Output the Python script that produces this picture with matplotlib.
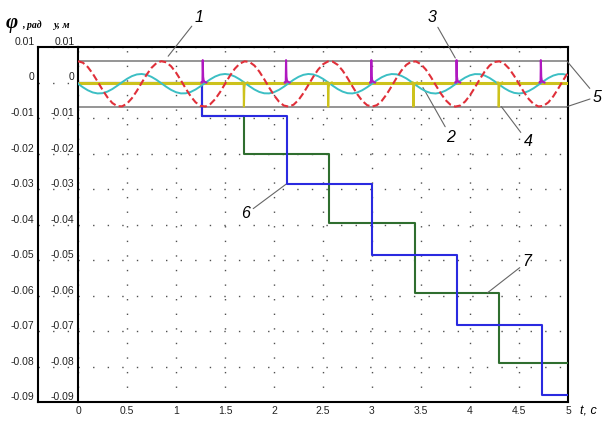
import matplotlib
matplotlib.use("Agg")
import matplotlib.pyplot as plt
import numpy as np

plt.rcParams['font.family'] = ['Liberation Sans', 'DejaVu Sans']

# ---------------- data (values in units of 1e-3) ----------------
t_wave = [0.00, 0.05, 0.10, 0.15, 0.20, 0.25, 0.30, 0.35, 0.40, 0.45,
          0.50, 0.55, 0.60, 0.65, 0.70, 0.75, 0.80, 0.85, 0.90, 0.95,
          1.00, 1.05, 1.10, 1.15, 1.20, 1.25, 1.30, 1.35, 1.40, 1.45,
          1.50, 1.55, 1.60, 1.65, 1.70, 1.75, 1.80, 1.85, 1.90, 1.95,
          2.00, 2.05, 2.10, 2.15, 2.20, 2.25, 2.30, 2.35, 2.40, 2.45,
          2.50, 2.55, 2.60, 2.65, 2.70, 2.75, 2.80, 2.85, 2.90, 2.95,
          3.00, 3.05, 3.10, 3.15, 3.20, 3.25, 3.30, 3.35, 3.40, 3.45,
          3.50, 3.55, 3.60, 3.65, 3.70, 3.75, 3.80, 3.85, 3.90, 3.95,
          4.00, 4.05, 4.10, 4.15, 4.20, 4.25, 4.30, 4.35, 4.40, 4.45,
          4.50, 4.55, 4.60, 4.65, 4.70, 4.75, 4.80, 4.85, 4.90, 4.95,
          5.00]
# curve 1 (red dashed)
phi_wave = [6.00, 5.58, 4.36, 2.51, 0.27, -2.06, -4.16, -5.77, -6.66, -6.72,
            -5.94, -4.43, -2.38, -0.07, 2.20, 4.13, 5.45, 5.99, 5.69, 4.57,
            2.80, 0.60, -1.73, -3.89, -5.58, -6.58, -6.76, -6.10, -4.68, -2.69,
            -0.40, 1.89, 3.88, 5.30, 5.96, 5.78, 4.78, 3.09, 0.93, -1.40,
            -3.60, -5.37, -6.49, -6.79, -6.25, -4.93, -3.00, -0.73, 1.58, 3.63,
            5.14, 5.92, 5.86, 4.97, 3.36, 1.26, -1.07, -3.31, -5.16, -6.38,
            -6.80, -6.38, -5.16, -3.31, -1.07, 1.26, 3.36, 4.97, 5.86, 5.92,
            5.14, 3.63, 1.58, -0.73, -3.00, -4.93, -6.25, -6.79, -6.49, -5.37,
            -3.60, -1.40, 0.93, 3.09, 4.78, 5.78, 5.96, 5.30, 3.88, 1.89,
            -0.40, -2.69, -4.68, -6.10, -6.76, -6.58, -5.58, -3.89, -1.73, 0.60,
            2.80]
# curve 2 (cyan)
y_wave = [-0.35, -1.34, -2.19, -2.80, -3.08, -3.01, -2.57, -1.85, -0.92, 0.08,
          1.03, 1.79, 2.27, 2.40, 2.16, 1.59, 0.77, -0.21, -1.20, -2.08,
          -2.73, -3.07, -3.04, -2.66, -1.97, -1.06, -0.06, 0.90, 1.69, 2.22,
          2.40, 2.22, 1.69, 0.90, -0.06, -1.06, -1.97, -2.66, -3.04, -3.07,
          -2.73, -2.08, -1.20, -0.21, 0.77, 1.59, 2.16, 2.40, 2.27, 1.79,
          1.03, 0.08, -0.92, -1.85, -2.57, -3.01, -3.08, -2.80, -2.19, -1.34,
          -0.35, 0.64, 1.49, 2.10, 2.38, 2.31, 1.87, 1.15, 0.22, -0.78,
          -1.73, -2.49, -2.97, -3.10, -2.86, -2.29, -1.47, -0.49, 0.50, 1.38,
          2.03, 2.37, 2.34, 1.96, 1.27, 0.36, -0.64, -1.60, -2.39, -2.92,
          -3.10, -2.92, -2.39, -1.60, -0.64, 0.36, 1.27, 1.96, 2.34, 2.37,
          2.03]
# curves 3 / 4 : impulses on the zero line
impulse_up_times = [1.27, 2.12, 2.99, 3.86, 4.72]
impulse_down_times = [1.69, 2.55, 3.42, 4.29]
impulse_dt = [-0.01, 0.0, 0.003, 0.007, 0.012, 0.022, 0.04]
impulse_up_vals = [0.0, 0.0, 6.3, 1.6, 0.6, 0.2, 0.0]
impulse_down_vals = [0.0, 0.0, -6.8, -1.6, -0.6, -0.2, 0.0]
zero_line_t = [0.0, 5.0]
zero_line_v = [0.0, 0.0]
# curve 5 : bounds
bound_levels = [6.0, -6.8]
bound_t = [0.0, 5.0]
# curve 6 (blue steps)
blue_t = [0.0, 1.27, 2.13, 3.00, 3.87, 4.73, 5.00]
blue_v = [0.0, -9.3, -28.7, -48.7, -68.2, -87.9, -87.9]
# curve 7 (green steps)
green_t = [0.0, 1.27, 1.69, 2.56, 3.44, 4.30, 5.00]
green_v = [0.0, -9.3, -20.0, -39.7, -59.2, -78.9, -78.9]

x_ticks = [0, 0.5, 1, 1.5, 2, 2.5, 3, 3.5, 4, 4.5, 5]
x_labels = ["0", "0.5", "1", "1.5", "2", "2.5", "3", "3.5", "4", "4.5", "5"]
y_ticks = [0.01, 0.0, -0.01, -0.02, -0.03, -0.04, -0.05, -0.06, -0.07, -0.08, -0.09]
y_labels = ["0.01", "0", "-0.01", "-0.02", "-0.03", "-0.04", "-0.05",
            "-0.06", "-0.07", "-0.08", "-0.09"]

SC = 1e-3

# ---------------- layout ----------------
W, H = 603, 421
fig = plt.figure(figsize=(W / 100, H / 100), dpi=100)
def fx(px): return px / W
def fy(py): return 1 - py / H

ax = fig.add_axes([fx(78), fy(402), (568 - 78) / W, (402 - 47) / H])
axl = fig.add_axes([fx(38), fy(402), (78 - 38) / W, (402 - 47) / H])

grid_kw = dict(color='#505050', linewidth=1.0, linestyle=(0, (1, 9.5)))
for a in (ax, axl):
    a.set_ylim(-0.09, 0.01)
    a.set_yticks(y_ticks)
    a.set_yticklabels(y_labels, fontsize=7.5, color='#222222')
    for lab in a.get_yticklabels():
        lab.set_va('bottom')
    a.tick_params(axis='y', length=0, pad=2.5)
    for s in a.spines.values():
        s.set_linewidth(1.5)
        s.set_color('black')
    a.set_facecolor('none')

ax.set_xlim(0, 5)
ax.set_xticks(x_ticks)
ax.set_xticklabels(x_labels, fontsize=7.5, color='#222222')
ax.tick_params(axis='x', length=0, pad=3)
ax.grid(True, **grid_kw)

axl.set_xlim(0, 1)
axl.set_xticks([])
axl.grid(True, axis='y', **grid_kw)
axl.spines['right'].set_visible(False)

# ---------------- curves ----------------
ax.hlines([v * SC for v in bound_levels], bound_t[0], bound_t[1],
          colors='#8c8c8c', linewidth=1.3, zorder=2)

ax.step(green_t, [v * SC for v in green_v], where='post', color='#2f6e2f',
        linewidth=1.5, zorder=3)
ax.step(blue_t, [v * SC for v in blue_v], where='post', color='#2a2ae0',
        linewidth=1.5, zorder=3.5)

ax.plot(zero_line_t, [v * SC for v in zero_line_v], color='#cdc21c',
        linewidth=2.2, zorder=3.8, solid_capstyle='butt')

ax.plot(t_wave, [v * SC for v in y_wave], color='#3cbfc4', linewidth=1.4,
        zorder=4)
ax.plot(t_wave, [v * SC for v in phi_wave], color='#e0303a', linewidth=1.5,
        dashes=(3.4, 1.6), zorder=4.2)

for t0 in impulse_up_times:
    ax.plot([t0 + d for d in impulse_dt], [v * SC for v in impulse_up_vals],
            color='#b018c0', linewidth=1.5, zorder=5)
for t0 in impulse_down_times:
    ax.plot([t0 + d for d in impulse_dt], [v * SC for v in impulse_down_vals],
            color='#cdc21c', linewidth=1.5, zorder=5)

# ---------------- annotations ----------------
lead = dict(arrowstyle='-', color='#666666', linewidth=0.8, shrinkA=0, shrinkB=0)
num_kw = dict(fontsize=11.5, style='italic', ha='center', va='center',
              textcoords='figure fraction', arrowprops=lead, annotation_clip=False)

ax.annotate('1', xy=(0.92, 0.0074), xytext=(fx(199), fy(17)), **num_kw)
ax.annotate('3', xy=(3.85, 0.0069), xytext=(fx(432), fy(17)), **num_kw)
ax.annotate('2', xy=(3.52, -0.0014), xytext=(fx(451), fy(137)), **num_kw)
ax.annotate('4', xy=(4.32, -0.0068), xytext=(fx(528), fy(142)), **num_kw)
ax.annotate('6', xy=(2.13, -0.0285), xytext=(fx(246), fy(214)), **num_kw)
ax.annotate('7', xy=(4.18, -0.0592), xytext=(fx(527), fy(262)), **num_kw)
ax.annotate('5', xy=(4.99, bound_levels[0] * SC), xytext=(fx(597), fy(97)), **num_kw)
ax.annotate('', xy=(4.99, bound_levels[1] * SC), xytext=(fx(590), fy(99)),
            textcoords='figure fraction', arrowprops=lead, annotation_clip=False)

# axis titles
fig.text(fx(6), fy(23), 'φ', fontsize=15, fontweight='bold', style='italic',
         family=['Liberation Serif', 'DejaVu Serif'], ha='left', va='center')
fig.text(fx(22), fy(25), ', рад', fontsize=7, fontweight='bold', style='italic',
         family=['Liberation Serif', 'DejaVu Serif'], ha='left', va='center')
fig.text(fx(53), fy(25), 'y, м', fontsize=7.5, fontweight='bold', style='italic',
         family=['Liberation Serif', 'DejaVu Serif'], ha='left', va='center')
fig.text(fx(580), fy(411), 't, c', fontsize=9, style='italic',
         ha='left', va='center')

fig.savefig('out.png', dpi=100)
